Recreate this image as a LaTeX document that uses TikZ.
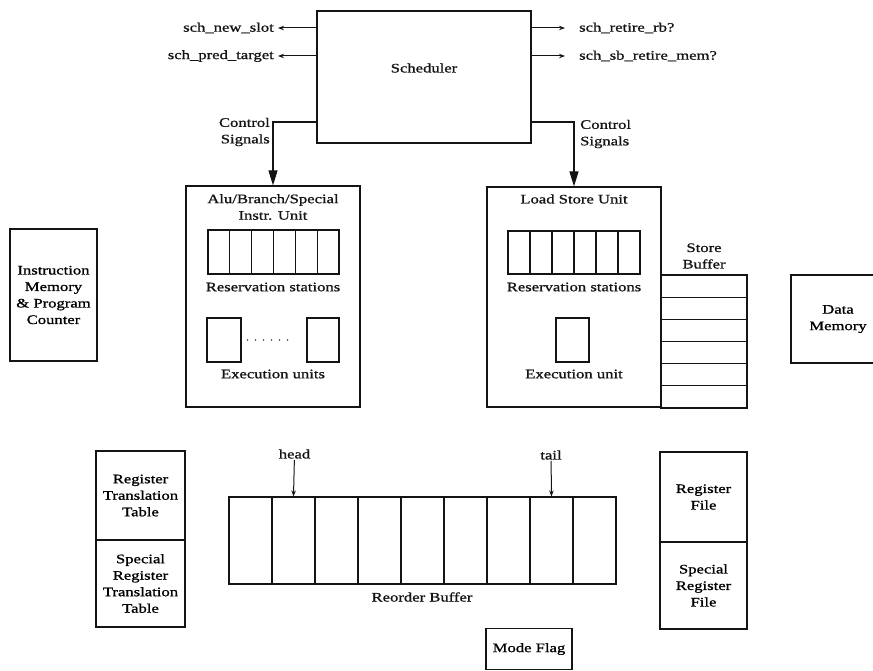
\documentclass[tikz,border=0pt]{standalone}
\usepackage{fontspec}
\setmainfont[FakeStretch=1.28,FakeBold=1]{Liberation Serif}
\usepackage{tikz}
\usetikzlibrary{arrows.meta,positioning,calc}
\usepackage{xcolor}
\definecolor{Ink}{RGB}{20,20,20}
\tikzset{
  unode/.style={rectangle,draw=Ink,line width=1.2pt,fill=white,align=center,
                inner sep=2pt},
  ucell/.style={rectangle,draw=Ink,line width=1.1pt,inner sep=0pt},
  ulbl/.style={inner sep=1pt,align=center,text=Ink},
  uedge/.style={-{Stealth[length=6pt,width=4.5pt]},Ink,line width=1pt},
  uctrl/.style={-{Triangle[length=15pt,width=9pt]},Ink,line width=1.2pt},
  uptr/.style={-{Stealth[length=6pt,width=4.5pt]},Ink,line width=1pt},
  udots/.style={Ink,line width=1.6pt,line cap=round,dash pattern=on 0pt off 8pt},
}

\begin{document}
\begin{tikzpicture}[x=1pt,y=-1pt,font=\fontsize{13}{16.5}\selectfont]
    \useasboundingbox (0,0) rectangle (873,671);
    \clip (0,0) rectangle (873,671);

    % scheduler and its outputs
    \node[unode,minimum width=214pt,minimum height=132pt] (sched) at (424,77) {};
    \node[ulbl] (schedlbl) at (424,68) {Scheduler};
    \node[ulbl,anchor=east,inner xsep=4pt] (newslot) at (278,28) {sch\_new\_slot};
    \node[ulbl,anchor=east,inner xsep=4pt] (predtgt) at (278,56) {sch\_pred\_target};
    \node[ulbl,anchor=west,inner xsep=14pt] (retrb) at (565,28) {sch\_retire\_rb?};
    \node[ulbl,anchor=west,inner xsep=14pt] (retmem) at (565,56) {sch\_sb\_retire\_mem?};
    \draw[uedge] (sched.west |- newslot) -- (newslot);
    \draw[uedge] (sched.west |- predtgt) -- (predtgt);
    \draw[uedge] (sched.east |- retrb) -- (retrb);
    \draw[uedge] (sched.east |- retmem) -- (retmem);

    % alu / branch / special unit
    \node[unode,minimum width=174pt,minimum height=221pt] (alu) at (273,296.5) {};
    \node[ulbl] (alutitle) at (273,207) {Alu/Branch/Special\\Instr. Unit};
    \foreach \i in {0,...,5}
      \node[ucell,minimum width=21.83pt,minimum height=44pt] (alurs\i) at ({218.9+21.83*\i},252) {};
    \node[ulbl] (alurslbl) at (273,287) {Reservation stations};
    \node[ucell,minimum width=34pt,minimum height=44pt] (aluex1) at (224,340) {};
    \node[ucell,minimum width=32pt,minimum height=44pt] (aluex2) at (323,340) {};
    \draw[udots,shorten <=6pt,shorten >=12pt] (aluex1.east) -- (aluex2.west);
    \node[ulbl] (aluexlbl) at (273,374) {Execution units};

    % load store unit and store buffer
    \node[unode,minimum width=174pt,minimum height=220pt] (lsu) at (574,297) {};
    \node[ulbl] (lsutitle) at (574,199) {Load Store Unit};
    \foreach \i in {0,...,5}
      \node[ucell,minimum width=22pt,minimum height=43pt] (lsurs\i) at ({519+22*\i},252.5) {};
    \node[ulbl] (lsurslbl) at (574,287) {Reservation stations};
    \node[ucell,minimum width=33pt,minimum height=44pt] (lsuex) at (572.5,340) {};
    \node[ulbl] (lsuexlbl) at (574,374) {Execution unit};
    \foreach \i in {1,...,6}
      \node[ucell,line width=1.2pt,minimum width=86pt,minimum height=22.17pt] (sb\i) at (704,{275+22.17*\i-11.08}) {};
    \node[ulbl] (sblbl) at (704,256) {Store\\Buffer};

    \draw[uctrl] ([yshift=-45pt]sched.west) -| (alu.north);
    \draw[uctrl] ([yshift=-45pt]sched.east) -| (lsu.north);
    \node[ulbl,anchor=east,align=right] (ctlalu) at (271,132) {Control\\Signals};
    \node[ulbl,anchor=west,align=left] (ctllsu) at (579,134) {Control\\Signals};

    % memories
    \node[unode,minimum width=87pt,minimum height=132pt] (imem) at (53.5,295) {Instruction\\Memory\\\& Program\\Counter};
    \node[unode,minimum width=94pt,minimum height=88pt] (dmem) at (838,319) {Data\\Memory};

    % reorder buffer
    \foreach \i in {1,...,9}
      \node[ucell,minimum width=43pt,minimum height=87pt] (rob\i) at ({207.5+43*\i},540.5) {};
    \node[ulbl] (roblbl) at (422,597) {Reorder Buffer};
    \node[ulbl] (head) at (294.5,454) {head};
    \node[ulbl] (tail) at (551,455) {tail};
    \draw[uptr] (head) -- (rob2.north);
    \draw[uptr] (tail) -- (rob8.north);

    % translation tables and register files
    \node[unode,minimum width=89pt,minimum height=89pt] (rtt) at (140.5,495.5) {Register\\Translation\\Table};
    \node[unode,minimum width=89pt,minimum height=87pt] (srtt) at (140.5,583.5) {Special\\Register\\Translation\\Table};
    \node[unode,minimum width=87pt,minimum height=90pt] (rf) at (703.5,497) {Register\\File};
    \node[unode,minimum width=87pt,minimum height=87pt] (srf) at (703.5,585.5) {Special\\Register\\File};
    \node[unode,minimum width=86pt,minimum height=41pt] (mode) at (529,649) {Mode Flag};
\end{tikzpicture}
\end{document}
